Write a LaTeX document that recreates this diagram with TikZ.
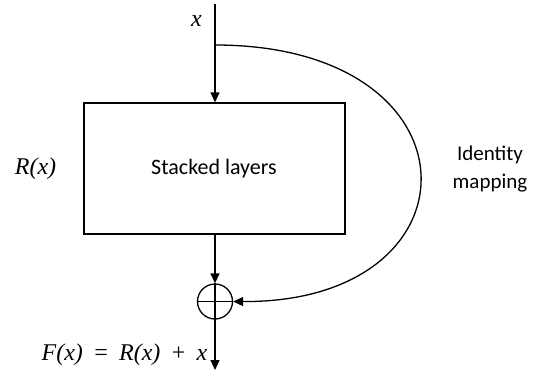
\documentclass[tikz,border=0pt]{standalone}
\usepackage{fontspec}
\setmainfont{Liberation Serif}
\newfontfamily\calib{Carlito}
\usetikzlibrary{arrows.meta}
\begin{document}
\begin{tikzpicture}[x=1pt,y=-1pt,
  line width=1.3pt,
  arr/.style={-{Triangle[length=10pt,width=9pt]}},
  mathlbl/.style={font=\fontsize{24}{28}\selectfont\itshape, inner sep=0pt},
  sanslbl/.style={font=\calib\fontsize{21}{28}\selectfont, align=center, inner sep=0pt},
  layerbox/.style={draw, minimum width=261pt, minimum height=131pt, inner sep=0pt},
  sumnode/.style={draw, circle, minimum size=35pt, inner sep=0pt}]
\useasboundingbox (0,0) rectangle (543,375);
\node[layerbox] (box) at (214.5,168.5) {};
\node[sanslbl, font=\calib\fontsize{22}{26}\selectfont] (boxtxt) at (214,169) {Stacked layers};
\node[sumnode] (sum) at (215,301.5) {};
\draw (sum.north) -- (sum.south) (sum.west) -- (sum.east);
\coordinate (in) at (215,4);
\coordinate (br) at (215,45);
\coordinate (out) at (215,370);
\draw[arr] (in) -- (box.north -| in);
\draw[arr] (box.south -| sum) -- (sum.north);
\draw[arr] (sum.south) -- (out);
\draw[arr] (br) .. controls (485,45) and (485,303) .. (sum.east);
\node[mathlbl] (xlbl) at (196.5,21) {x};
\node[mathlbl] (rlbl) at (35.5,169) {R(x)};
\node[mathlbl] (flbl) at (124.5,355) {F(x)\hspace{4pt} =\hspace{4pt} R(x)\hspace{4pt} +\hspace{4pt} x};
\node[sanslbl] (idlbl) at (490,169) {Identity\\mapping};
\end{tikzpicture}
\end{document}
